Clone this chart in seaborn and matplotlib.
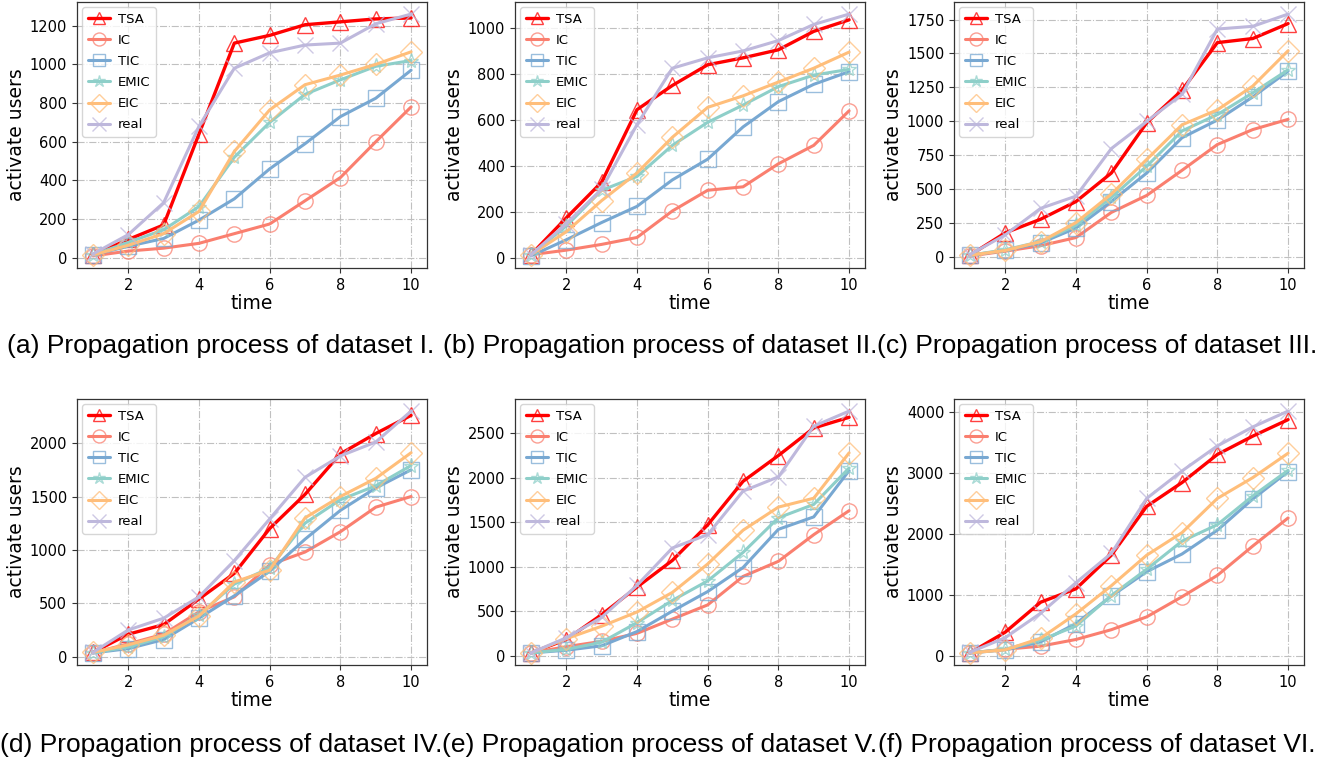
import matplotlib
matplotlib.use("Agg")
import matplotlib.pyplot as plt
import matplotlib.colors as mcolors
from matplotlib.ticker import MultipleLocator
import seaborn as sns
import numpy as np

time = [1, 2, 3, 4, 5, 6, 7, 8, 9, 10]
methods = ["TSA", "IC", "TIC", "EMIC", "EIC", "real"]

# dataset I
d1_TSA = [15, 95, 170, 640, 1110, 1150, 1205, 1220, 1235, 1240]
d1_IC = [10, 35, 50, 75, 125, 175, 295, 415, 600, 780]
d1_TIC = [15, 60, 100, 195, 305, 460, 590, 730, 825, 970]
d1_EMIC = [15, 80, 145, 265, 520, 700, 845, 920, 990, 1020]
d1_EIC = [15, 65, 125, 240, 550, 765, 895, 945, 1000, 1065]
d1_real = [20, 120, 285, 680, 980, 1060, 1100, 1110, 1210, 1260]

# dataset II
d2_TSA = [15, 175, 330, 645, 750, 840, 870, 905, 985, 1035]
d2_IC = [15, 35, 60, 90, 205, 295, 310, 410, 490, 640]
d2_TIC = [10, 80, 155, 225, 340, 430, 570, 680, 755, 810]
d2_EMIC = [15, 140, 295, 355, 490, 590, 665, 745, 795, 820]
d2_EIC = [15, 115, 250, 370, 525, 655, 705, 765, 825, 895]
d2_real = [15, 150, 300, 580, 825, 870, 900, 945, 1015, 1060]

# dataset III
d3_TSA = [15, 180, 280, 410, 620, 990, 1230, 1580, 1610, 1720]
d3_IC = [10, 45, 85, 145, 330, 455, 640, 830, 940, 1015]
d3_TIC = [15, 50, 105, 215, 410, 620, 880, 1010, 1180, 1370]
d3_EMIC = [15, 55, 115, 235, 440, 670, 930, 1050, 1210, 1380]
d3_EIC = [15, 50, 115, 255, 465, 720, 975, 1085, 1260, 1520]
d3_real = [20, 165, 360, 450, 800, 1000, 1200, 1680, 1700, 1790]

# dataset IV
d4_TSA = [40, 210, 300, 540, 780, 1200, 1520, 1900, 2090, 2260]
d4_IC = [35, 120, 210, 420, 560, 860, 980, 1170, 1400, 1500]
d4_TIC = [35, 75, 160, 360, 570, 800, 1100, 1370, 1580, 1750]
d4_EMIC = [35, 90, 185, 390, 680, 830, 1250, 1470, 1600, 1790]
d4_EIC = [40, 110, 200, 380, 700, 810, 1300, 1500, 1670, 1910]
d4_real = [40, 250, 360, 560, 900, 1290, 1680, 1880, 2010, 2300]

# dataset V
d5_TSA = [30, 180, 460, 770, 1070, 1470, 1960, 2250, 2560, 2680]
d5_IC = [30, 100, 160, 250, 410, 570, 890, 1060, 1360, 1630]
d5_TIC = [30, 60, 110, 270, 500, 720, 990, 1420, 1560, 2080]
d5_EMIC = [30, 70, 150, 370, 620, 840, 1160, 1550, 1700, 2110]
d5_EIC = [30, 190, 330, 490, 710, 1030, 1410, 1670, 1770, 2280]
d5_real = [30, 200, 430, 790, 1210, 1360, 1850, 2010, 2580, 2750]

# dataset VI
d6_TSA = [50, 390, 880, 1100, 1650, 2450, 2840, 3300, 3600, 3870]
d6_IC = [50, 110, 160, 270, 430, 640, 970, 1320, 1800, 2260]
d6_TIC = [50, 100, 230, 530, 980, 1380, 1670, 2060, 2570, 3020]
d6_EMIC = [50, 110, 260, 490, 990, 1420, 1880, 2150, 2620, 3040]
d6_EIC = [50, 100, 290, 690, 1150, 1650, 2020, 2580, 2920, 3320]
d6_real = [60, 300, 700, 1200, 1680, 2580, 3030, 3440, 3750, 4010]

captions = [
    "(a) Propagation process of dataset I.",
    "(b) Propagation process of dataset II.",
    "(c) Propagation process of dataset III.",
    "(d) Propagation process of dataset IV.",
    "(e) Propagation process of dataset V.",
    "(f) Propagation process of dataset VI.",
]
ytick_steps = [200, 200, 250, 500, 500, 1000]

datasets = [
    [d1_TSA, d1_IC, d1_TIC, d1_EMIC, d1_EIC, d1_real],
    [d2_TSA, d2_IC, d2_TIC, d2_EMIC, d2_EIC, d2_real],
    [d3_TSA, d3_IC, d3_TIC, d3_EMIC, d3_EIC, d3_real],
    [d4_TSA, d4_IC, d4_TIC, d4_EMIC, d4_EIC, d4_real],
    [d5_TSA, d5_IC, d5_TIC, d5_EMIC, d5_EIC, d5_real],
    [d6_TSA, d6_IC, d6_TIC, d6_EMIC, d6_EIC, d6_real],
]

colors = ["#FF0000", "#FA7F6F", "#78A8D2", "#8ECFC9", "#FFBE7A", "#BEB8DC"]
markers = ["^", "o", "s", "*", "D", "x"]
msizes = [11, 11, 11, 11, 11, 12]
lws = [2.4, 2.2, 2.2, 2.2, 2.2, 2.2]

sns.set_style("white")
plt.rcParams["font.family"] = ["DejaVu Sans"]
plt.rcParams["text.color"] = "black"
plt.rcParams["axes.labelcolor"] = "black"

fig = plt.figure(figsize=(13.2, 7.63), dpi=100)

W, H = 1320.0, 763.0
lefts = [77, 515, 954]
tops = [2, 399]
aw, ah = 350, 266
cap_centers = [221, 660, 1097]
cap_y = [346, 745]

for i, data in enumerate(datasets):
    r, c = divmod(i, 3)
    ax = fig.add_axes([lefts[c] / W, 1 - (tops[r] + ah) / H, aw / W, ah / H])
    for j, name in enumerate(methods):
        ec = mcolors.to_rgba(colors[j], 0.75)
        sns.lineplot(x=time, y=data[j], ax=ax, color=colors[j], lw=lws[j],
                     marker=markers[j], markersize=msizes[j],
                     markerfacecolor="none", markeredgecolor=ec,
                     markeredgewidth=1.0, label=name, legend=False)
    ax.grid(True, linestyle="-.", color="#c0c0c0", lw=0.8)
    ax.set_xticks([2, 4, 6, 8, 10])
    ax.yaxis.set_major_locator(MultipleLocator(ytick_steps[i]))
    ax.tick_params(axis="both", labelsize=10.5, length=3.5, width=0.8,
                   color="#333333", labelcolor="black", bottom=True, left=True)
    for s in ax.spines.values():
        s.set_color("#333333")
        s.set_linewidth(0.9)
    ax.set_xlabel("time", fontsize=13.5, labelpad=1)
    ax.set_ylabel("activate users", fontsize=13.5, labelpad=3)
    leg = ax.legend(loc="upper left", fontsize=9.5, frameon=True, framealpha=0.8,
                    borderpad=0.4, labelspacing=0.62, handlelength=1.7,
                    handletextpad=0.6, borderaxespad=0.4, markerscale=0.85)
    fig.text(cap_centers[c] / W, 1 - cap_y[r] / H, captions[i],
             ha="center", va="center", fontsize=19,
             family=["Liberation Sans", "DejaVu Sans"])

fig.savefig("out.png", dpi=100)
